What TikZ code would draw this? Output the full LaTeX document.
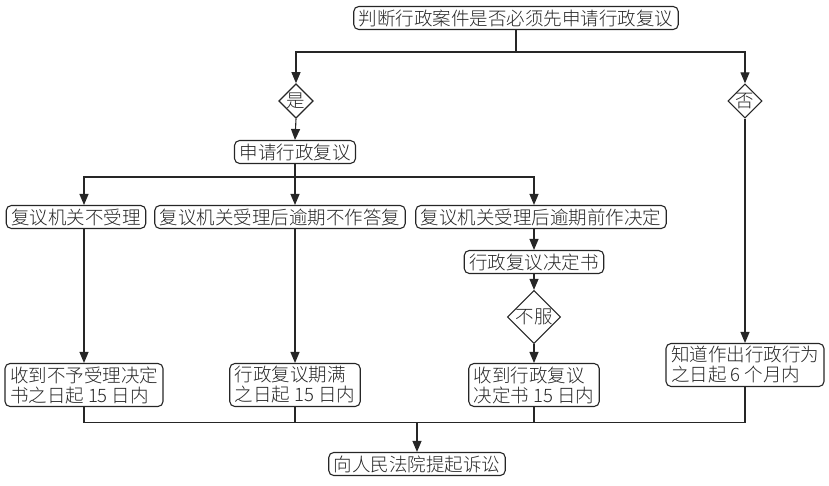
\documentclass[tikz,border=0pt]{standalone}
\usepackage{fontspec}
\setmainfont{Noto Sans CJK SC Light}
\usetikzlibrary{positioning,arrows.meta,shapes.geometric}

\tikzset{
  box/.style={draw,rounded corners=5pt,inner xsep=5pt,inner ysep=3pt,align=left},
  choice/.style={draw,diamond,aspect=1,inner sep=0pt},
  >={Triangle[length=11pt,width=9pt]}
}

\begin{document}
\begin{tikzpicture}[x=1pt,y=-1pt,line width=1.1pt,draw=black!85,
  every node/.style={font=\fontsize{18.5}{20}\selectfont,text=black!85}]
\useasboundingbox (0,0) rectangle (829,486);
% boxes
\node[box] (top) at (516,18) {判断行政案件是否必须先申请行政复议};
\node[choice] (yes) at (296,101) {是};
\node[choice] (no) at (745,101) {否};
\node[box] (apply) at (295,152) {申请行政复议};
\node[box] (r1) at (76,217) {复议机关不受理};
\node[box] (r2) at (280,217) {复议机关受理后逾期不作答复};
\node[box] (r3) at (541,217) {复议机关受理后逾期前作决定};
\node[box] (dec) at (534,262) {行政复议决定书};
\node[choice] (ref) at (534,317) {不服};
\node[box] (e1) at (84,385) {收到不予受理决定\\书之日起 15 日内};
\node[box] (e2) at (295,385) {行政复议期满\\之日起 15 日内};
\node[box] (e3) at (534,385) {收到行政复议\\决定书 15 日内};
\node[box] (e4) at (745,365) {知道作出行政行为\\之日起 6 个月内};
\node[box] (court) at (417,464) {向人民法院提起诉讼};
% connectors
\draw (top.south) -- ++(0,22) coordinate (j0);
\draw[->] (j0) -| (yes.north);
\draw[->] (j0) -| (no.north);
\draw[->] (yes.south) -- (apply.north);
\draw (apply.south) -- ++(0,13) coordinate (j1);
\draw[->] (j1) -| (r1.north -| e1.north);
\draw[->] (j1) -| (r2.north -| e2.north);
\draw[->] (j1) -| (r3.north -| dec.north);
\draw[->] (r1.south -| e1.north) -- (e1.north);
\draw[->] (r2.south -| e2.north) -- (e2.north);
\draw[->] (r3.south -| dec.north) -- (dec.north);
\draw[->] (dec.south) -- (ref.north);
\draw[->] (ref.south) -- (e3.north);
\draw[->] (no.south) -- (e4.north);
\draw (e1.south) -- ++(0,15) coordinate (j2) -| (e4.south);
\draw (e2.south) -- (e2.south |- j2);
\draw (e3.south) -- (e3.south |- j2);
\draw[->] (court.north |- j2) -- (court.north);
\end{tikzpicture}
\end{document}
